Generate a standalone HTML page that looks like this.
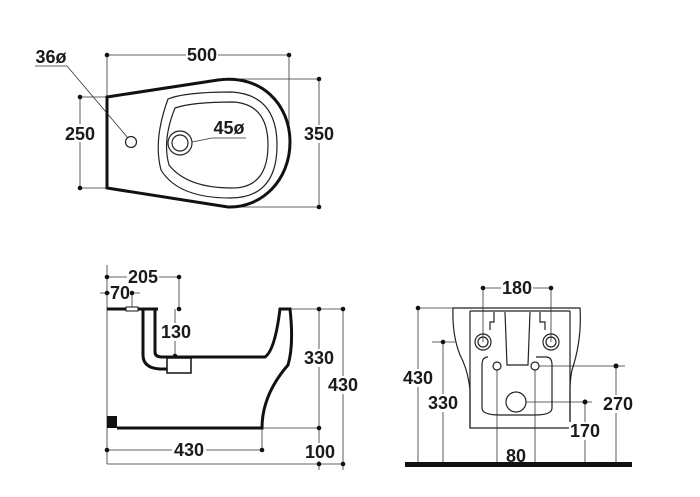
<!DOCTYPE html>
<html><head><meta charset="utf-8"><style>
html,body{margin:0;padding:0;background:#fff;}
svg{display:block;}
text{font-family:"Liberation Sans",sans-serif;font-weight:bold;font-size:18px;fill:#1a1a1a;}
</style></head><body>
<svg width="700" height="497" viewBox="0 0 700 497" xmlns="http://www.w3.org/2000/svg">
<g stroke="#333" stroke-width="0.8" fill="none">
<line x1="107" y1="55" x2="289" y2="55"/>
<line x1="107" y1="55" x2="107" y2="97"/>
<line x1="289" y1="55" x2="289" y2="140"/>
<line x1="225" y1="79" x2="319" y2="79"/>
<line x1="225" y1="207" x2="319" y2="207"/>
<line x1="319" y1="79" x2="319" y2="207"/>
<line x1="80" y1="97" x2="107" y2="97"/>
<line x1="80" y1="188" x2="107" y2="188"/>
<line x1="80" y1="97" x2="80" y2="188"/>
<line x1="35" y1="66" x2="67" y2="66"/>
<line x1="67" y1="66" x2="128" y2="138"/>
<line x1="212" y1="138" x2="246" y2="138"/>
<line x1="212" y1="138" x2="182" y2="144"/>
<line x1="107" y1="265" x2="107" y2="464"/>
<line x1="107" y1="464" x2="345" y2="464"/>
<line x1="107" y1="277" x2="179" y2="277"/>
<line x1="179" y1="277" x2="179" y2="309"/>
<line x1="100" y1="293" x2="140" y2="293"/>
<line x1="132" y1="293" x2="132" y2="309"/>
<line x1="175" y1="309" x2="175" y2="356"/>
<line x1="290" y1="309" x2="345" y2="309"/>
<line x1="262" y1="428" x2="319" y2="428"/>
<line x1="319" y1="309" x2="319" y2="470"/>
<line x1="343" y1="309" x2="343" y2="470"/>
<line x1="107" y1="450" x2="262" y2="450"/>
<line x1="262" y1="428" x2="262" y2="450"/>
<line x1="483" y1="288" x2="551" y2="288"/>
<line x1="483" y1="288" x2="483" y2="342"/>
<line x1="551" y1="288" x2="551" y2="342"/>
<line x1="418" y1="308" x2="453" y2="308"/>
<line x1="418" y1="308" x2="418" y2="464"/>
<line x1="432" y1="342" x2="455" y2="342"/>
<line x1="443" y1="342" x2="443" y2="464"/>
<line x1="535" y1="366" x2="625" y2="366"/>
<line x1="616" y1="366" x2="616" y2="464"/>
<line x1="516" y1="402" x2="592" y2="402"/>
<line x1="585" y1="402" x2="585" y2="464"/>
<line x1="497" y1="366" x2="497" y2="464"/>
<line x1="535" y1="366" x2="535" y2="464"/>
</g>
<g fill="#111">
<circle cx="107" cy="55" r="2.3"/><circle cx="289" cy="55" r="2.3"/>
<circle cx="319" cy="79" r="2.3"/><circle cx="319" cy="207" r="2.3"/>
<circle cx="80" cy="97" r="2.3"/><circle cx="80" cy="188" r="2.3"/>
<circle cx="107" cy="277" r="2.3"/><circle cx="179" cy="277" r="2.3"/>
<circle cx="107" cy="293" r="2.3"/><circle cx="132" cy="293" r="2.3"/>
<circle cx="179" cy="309" r="2.3"/><circle cx="175" cy="356" r="2.3"/>
<circle cx="319" cy="309" r="2.3"/><circle cx="343" cy="309" r="2.3"/>
<circle cx="319" cy="428" r="2.3"/><circle cx="319" cy="464" r="2.3"/><circle cx="343" cy="464" r="2.3"/>
<circle cx="107" cy="450" r="2.3"/><circle cx="262" cy="450" r="2.3"/>
<circle cx="483" cy="288" r="2.3"/><circle cx="551" cy="288" r="2.3"/>
<circle cx="418" cy="308" r="2.3"/><circle cx="443" cy="342" r="2.3"/>
<circle cx="616" cy="366" r="2.5"/><circle cx="585" cy="402" r="2.5"/>
<rect x="405" y="462" width="227" height="5"/>
<rect x="107" y="416" width="10" height="12"/>
</g>
<path d="M107 97 L218 80 C262 74 290 105 290 142 C290 180 262 208 228 207 L107 188 Z" fill="none" stroke="#111" stroke-width="3"/>
<path d="M168 99 Q185 92 232 92 Q277 95 277 145 Q277 198 230 198 Q178 198 161 170 Q153 140 168 99 Z" fill="none" stroke="#222" stroke-width="1.2"/>
<path d="M175 108 Q192 102 233 102 Q268 104 268 145 Q268 188 232 188 Q187 188 169 165 Q162 140 175 108 Z" fill="none" stroke="#222" stroke-width="1.2"/>
<circle cx="180" cy="143" r="12" fill="#fff" stroke="#222" stroke-width="1.2"/>
<circle cx="180" cy="143" r="8" fill="none" stroke="#222" stroke-width="1.2"/>
<circle cx="131" cy="142" r="5.5" fill="#fff" stroke="#222" stroke-width="1.2"/>
<g fill="none" stroke="#111" stroke-width="3">
<line x1="107" y1="309" x2="126" y2="309"/>
<line x1="138" y1="309" x2="158" y2="309"/>
<path d="M143 309 L143 355 Q143 368 160 369 L168 369"/>
<path d="M155 309 L155 352 Q155 357 162 357 L265 357 Q275 350 280 309 L290 309 Q294 345 288 365 Q262 395 262 428 L117 428"/>
</g>
<rect x="126" y="307" width="12" height="4" fill="#fff" stroke="#111" stroke-width="1"/>
<rect x="167" y="358" width="24" height="15" fill="#fff" stroke="#111" stroke-width="1.5"/>
<g fill="none" stroke="#222" stroke-width="1.2">
<path d="M453 308 L580 308 Q582 340 572 370 Q570 380 570 390 L570 428 L470 428 L470 390 Q468 370 460 355 Q452 335 453 308 Z"/>
<line x1="470" y1="311" x2="570" y2="311"/>
<line x1="470" y1="311" x2="470" y2="428"/>
<line x1="570" y1="311" x2="570" y2="428"/>
<path d="M505 312 L507 365 L528 365 L530 312"/>
<path d="M494 312 L494 322 L490 322 L490 330"/>
<path d="M540 312 L540 322 L545 322 L545 330"/>
<path d="M488 357 Q482 357 482 365 L482 408 Q482 415 500 415 L535 415 Q552 415 552 408 L552 365 Q552 357 546 357 L536 357"/>
<circle cx="483" cy="342" r="8"/><circle cx="483" cy="342" r="5"/>
<circle cx="551" cy="342" r="8"/><circle cx="551" cy="342" r="5"/>
<circle cx="497" cy="366" r="4" fill="#fff"/><circle cx="535" cy="366" r="4" fill="#fff"/>
<circle cx="516" cy="402" r="10" fill="#fff"/>
</g>
<g>
<rect x="186" y="46" width="32" height="18" fill="#fff"/>
<text x="202" y="61" text-anchor="middle">500</text>
<text x="51" y="63" text-anchor="middle">36ø</text>
<text x="229" y="134" text-anchor="middle">45ø</text>
<rect x="64" y="124" width="32" height="18" fill="#fff"/>
<text x="80" y="140" text-anchor="middle">250</text>
<rect x="303" y="125" width="32" height="18" fill="#fff"/>
<text x="319" y="140" text-anchor="middle">350</text>
<rect x="127" y="268" width="32" height="18" fill="#fff"/>
<text x="143" y="283" text-anchor="middle">205</text>
<rect x="110" y="284" width="20" height="18" fill="#fff"/>
<text x="120" y="299" text-anchor="middle">70</text>
<rect x="160" y="323" width="32" height="18" fill="#fff"/>
<text x="176" y="338" text-anchor="middle">130</text>
<rect x="303" y="349" width="32" height="18" fill="#fff"/>
<text x="319" y="364" text-anchor="middle">330</text>
<rect x="327" y="376" width="32" height="18" fill="#fff"/>
<text x="343" y="391" text-anchor="middle">430</text>
<rect x="303" y="443" width="32" height="18" fill="#fff"/>
<text x="320" y="458" text-anchor="middle">100</text>
<rect x="172" y="441" width="34" height="18" fill="#fff"/>
<text x="189" y="456" text-anchor="middle">430</text>
<rect x="501" y="279" width="32" height="18" fill="#fff"/>
<text x="517" y="294" text-anchor="middle">180</text>
<rect x="402" y="369" width="32" height="18" fill="#fff"/>
<text x="418" y="384" text-anchor="middle">430</text>
<rect x="427" y="394" width="32" height="18" fill="#fff"/>
<text x="443" y="409" text-anchor="middle">330</text>
<rect x="601" y="395" width="34" height="18" fill="#fff"/>
<text x="618" y="410" text-anchor="middle">270</text>
<rect x="569" y="422" width="32" height="18" fill="#fff"/>
<text x="585" y="437" text-anchor="middle">170</text>
<rect x="504" y="447" width="24" height="15" fill="#fff"/>
<text x="516" y="462" text-anchor="middle">80</text>
</g>
</svg>
</body></html>
